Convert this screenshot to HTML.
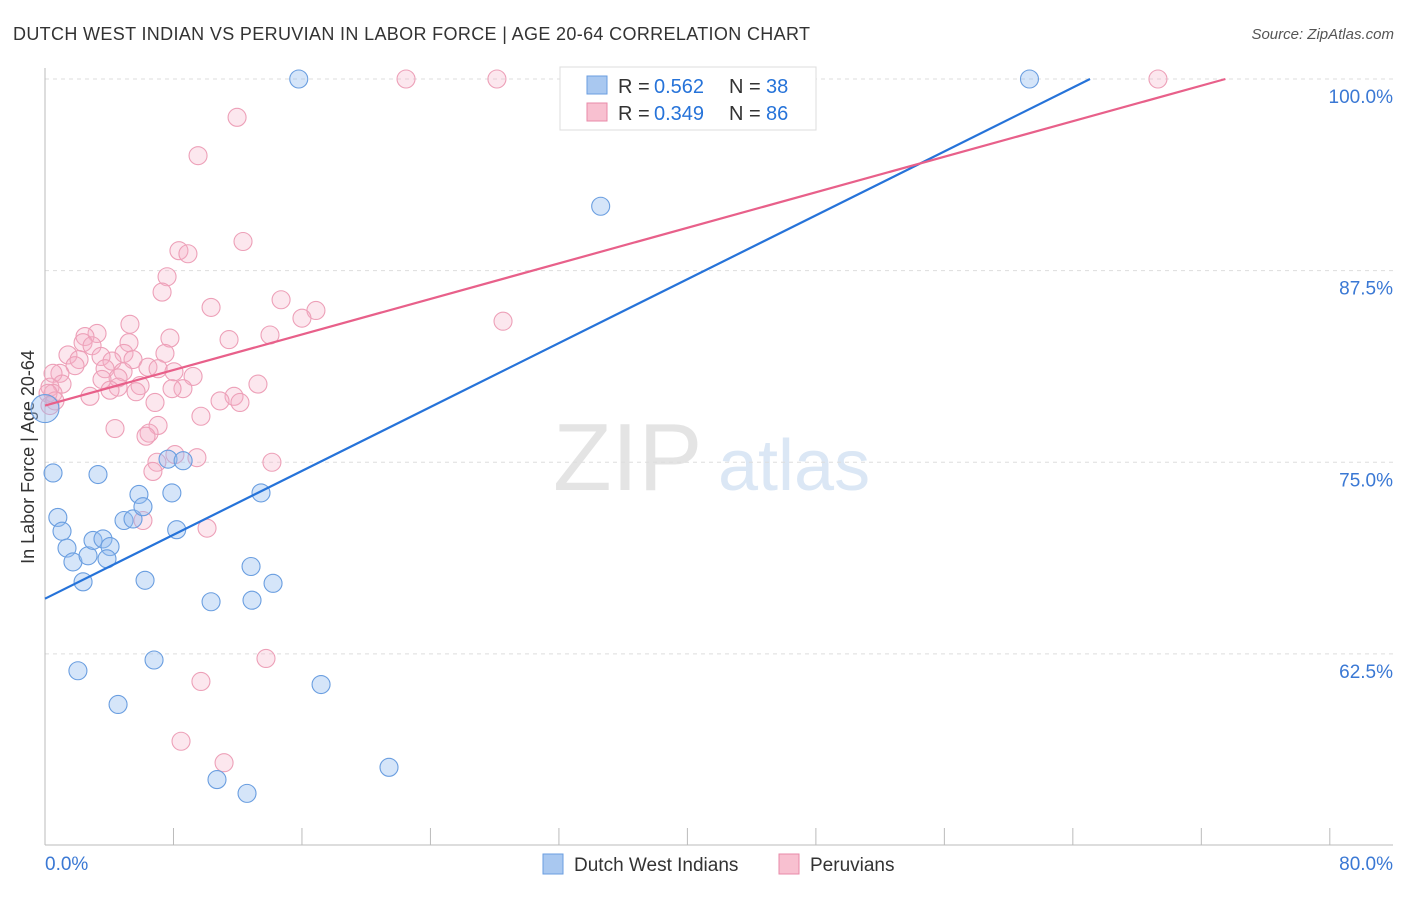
<!DOCTYPE html>
<html><head><meta charset="utf-8"><style>
body{margin:0;background:#fff;font-family:"Liberation Sans",sans-serif}
svg text{font-family:"Liberation Sans",sans-serif}
</style></head><body>
<svg id="chart" width="1406" height="892" xmlns="http://www.w3.org/2000/svg">
<text x="13" y="40" font-size="18" fill="#333" textLength="797">DUTCH WEST INDIAN VS PERUVIAN IN LABOR FORCE | AGE 20-64 CORRELATION CHART</text>
<text x="1394" y="39" font-size="15" fill="#555" text-anchor="end" font-style="italic">Source: ZipAtlas.com</text>
<text x="553" y="490" font-size="96" fill="#e4e4e4" font-family="Liberation Serif">ZIP</text>
<text x="718" y="490" font-size="72" fill="#dbe7f5">atlas</text>
<text transform="translate(34,457) rotate(-90)" font-size="18" fill="#333" text-anchor="middle">In Labor Force | Age 20-64</text>
<g id="grid"></g><g id="axes"></g><g id="pts"></g><g id="lines"></g>
<g>
<rect x="560" y="67" width="256" height="63" fill="#fff" stroke="#ddd"/>
<rect x="587" y="76" width="20" height="18" fill="#a9c8f0" stroke="#6a9ee0"/>
<rect x="587" y="103" width="20" height="18" fill="#f8c0d0" stroke="#e88aa8"/>
<text x="618" y="93" font-size="20" fill="#333">R =</text><text x="654" y="93" font-size="20" fill="#2673d9">0.562</text>
<text x="729" y="93" font-size="20" fill="#333">N =</text><text x="766" y="93" font-size="20" fill="#2673d9">38</text>
<text x="618" y="120" font-size="20" fill="#333">R =</text><text x="654" y="120" font-size="20" fill="#2673d9">0.349</text>
<text x="729" y="120" font-size="20" fill="#333">N =</text><text x="766" y="120" font-size="20" fill="#2673d9">86</text>
</g>
<g>
<rect x="543" y="854" width="20" height="20" fill="#a9c8f0" stroke="#6a9ee0"/>
<text x="574" y="871" font-size="19" fill="#333">Dutch West Indians</text>
<rect x="779" y="854" width="20" height="20" fill="#f8c0d0" stroke="#e88aa8"/>
<text x="810" y="871" font-size="19" fill="#333">Peruvians</text>
</g>
</svg>
<script>
const yTicks=[100,87.5,75,62.5];
const yTickLabels=["100.0%","87.5%","75.0%","62.5%"];
const xEndLabels=["0.0%","80.0%"];
const blueX=[15.8,61.3,34.6,0,0.5,3.3,0.8,1.06,1.37,1.74,2.37,2.68,2.99,3.61,4.05,3.86,4.92,5.48,5.85,6.1,7.9,7.66,8.6,8.2,6.23,6.79,2.05,4.55,10.34,12.83,12.89,13.45,14.2,17.19,10.71,12.58,21.42];
const blueY=[100,100,91.7,78.5,74.3,74.2,71.4,70.5,69.4,68.5,67.2,68.9,69.9,70.0,69.5,68.7,71.2,71.3,72.9,72.1,73.0,75.2,75.1,70.6,67.3,62.1,61.4,59.2,65.9,68.2,66.0,73.0,67.1,60.5,54.3,53.4,55.1];
const pinkX=[22.48,28.14,69.3,11.96,9.53,12.33,8.34,8.9,7.6,7.29,10.34,14.7,16.87,16.0,28.52,5.29,11.46,14.01,3.24,2.49,7.78,5.23,2.37,2.93,7.47,1.43,4.92,3.49,5.48,6.41,2.12,4.17,1.87,0.93,0.5,8.03,9.22,4.86,7.04,3.74,4.55,3.55,5.92,1.06,0.31,13.26,4.55,4.05,5.67,8.59,7.91,2.8,0.5,0.19,11.77,10.9,12.14,6.85,9.71,4.36,7.04,6.48,6.29,8.09,9.46,6.97,6.72,14.13,6.1,10.09,13.76,9.71,8.47,11.15,0.62,0.31];
const pinkY=[100,100,100,97.5,95.0,89.4,88.8,88.6,87.1,86.1,85.1,85.6,84.9,84.4,84.2,84.0,83.0,83.3,83.4,83.2,83.1,82.8,82.8,82.6,82.1,82.0,82.1,81.9,81.7,81.2,81.7,81.6,81.3,80.8,80.8,80.9,80.6,80.9,81.1,81.1,80.5,80.4,80.0,80.1,79.9,80.1,79.9,79.7,79.6,79.8,79.8,79.3,79.5,79.5,79.3,79.0,78.9,78.9,78.0,77.2,77.4,76.9,76.7,75.5,75.3,75.0,74.4,75.0,71.2,70.7,62.2,60.7,56.8,55.4,79.0,78.7];
const blueLine=[0,66.1,65.07,100];
const pinkLine=[0,78.7,73.5,100];
const NS="http://www.w3.org/2000/svg";
const xs=v=>45+v*16.06, ys=v=>79+(100-v)*15.33;
function mk(t,a,p){const e=document.createElementNS(NS,t);for(const k in a)e.setAttribute(k,a[k]);p.appendChild(e);return e;}
const grid=document.getElementById('grid'),axes=document.getElementById('axes'),pts=document.getElementById('pts'),lines=document.getElementById('lines');
yTicks.forEach((t,i)=>{
 const l=mk('line',{x1:45,x2:1393,y1:ys(t),y2:ys(t),stroke:'#ddd','stroke-dasharray':'4,4'},grid);
 
 
 const tx=mk('text',{x:1393,y:ys(t)+24,'font-size':19,fill:'#3a78d4','text-anchor':'end'},grid);
 tx.textContent=yTickLabels[i];
 
 
});
const ax=mk('line',{x1:45,x2:45,y1:68,y2:845,stroke:'#bbb'},axes);


const bx=mk('line',{x1:45,x2:1393,y1:845,y2:845,stroke:'#bbb'},axes);


for(let i=0;i<=10;i++){const t=mk('line',{x1:xs(i*8),x2:xs(i*8),y1:828,y2:845,stroke:'#bbb'},axes);
 
 }
[[45,'start'],[1393,'end']].forEach((d,i)=>{const t=mk('text',{x:d[0],y:870,'font-size':19,fill:'#3a78d4','text-anchor':d[1]},axes);t.textContent=xEndLabels[i];
 
 });
pinkX.forEach((x,i)=>{const c=mk('circle',{cx:xs(x),cy:ys(pinkY[i]),r:9,fill:'rgba(246,175,200,0.3)',stroke:'#eda0b8','stroke-width':1.1},pts);
 
 });
blueX.forEach((x,i)=>{const c=mk('circle',{cx:xs(x),cy:ys(blueY[i]),r:(x===0?14:9),fill:'rgba(150,190,240,0.4)',stroke:'#6a9ee0','stroke-width':1.1},pts);
 
 });
const bl=mk('line',{x1:xs(blueLine[0]),y1:ys(blueLine[1]),x2:xs(blueLine[2]),y2:ys(blueLine[3]),stroke:'#2673d9','stroke-width':2.2},lines);


const pl=mk('line',{x1:xs(pinkLine[0]),y1:ys(pinkLine[1]),x2:xs(pinkLine[2]),y2:ys(pinkLine[3]),stroke:'#e8608a','stroke-width':2.2},lines);


</script>
</body></html>
